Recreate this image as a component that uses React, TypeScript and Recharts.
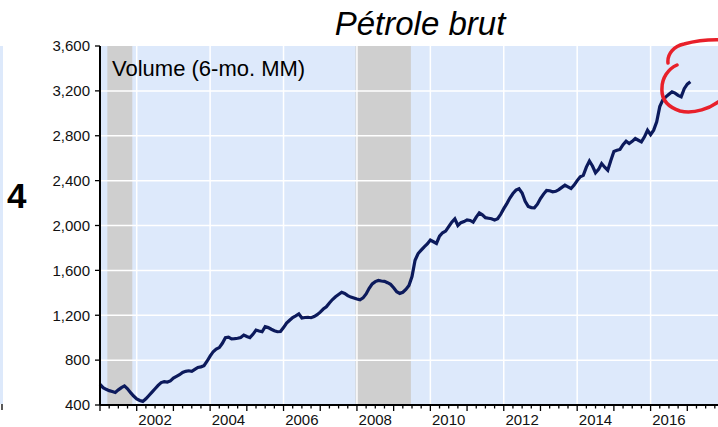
import { LineChart, Line, XAxis, YAxis, ReferenceArea, ReferenceLine } from "recharts"

// crude oil volume, 6-month moving average, monthly from Jan 2001
const volume = [
  585, 555, 540, 528, 520, 512, 535, 555, 570, 545, 510, 480,
  455, 440, 432, 455, 485, 515, 545, 575, 600, 608, 605, 615,
  640, 655, 670, 690, 700, 705, 700, 718, 735, 740, 750, 790,
  835, 875, 898, 912, 950, 1000, 1005, 990, 992, 995, 1002, 1023,
  1010, 1000, 1030, 1068, 1060, 1053, 1098, 1090, 1075, 1062, 1053, 1055,
  1090, 1130, 1155, 1180, 1195, 1212, 1175, 1180, 1182, 1178, 1188, 1205,
  1228, 1255, 1275, 1310, 1340, 1365, 1385, 1405, 1395, 1375, 1362, 1354,
  1345, 1338, 1355, 1390, 1440, 1480, 1500, 1510, 1505, 1502, 1490, 1475,
  1445, 1410, 1395, 1405, 1430, 1465, 1545, 1690, 1750, 1780, 1810, 1835,
  1870, 1855, 1840, 1905, 1935, 1950, 1990, 2030, 2060, 2000, 2025, 2035,
  2050, 2045, 2030, 2075, 2113, 2095, 2070, 2065, 2060, 2048, 2060, 2100,
  2150, 2195, 2245, 2285, 2315, 2328, 2290, 2215, 2170, 2160, 2158, 2190,
  2240, 2280, 2313, 2310, 2300, 2305, 2320, 2340, 2360, 2345, 2330, 2360,
  2400, 2435, 2447, 2520, 2575, 2530, 2470, 2500, 2552, 2520, 2492, 2580,
  2660, 2670, 2678, 2720, 2751, 2731, 2750, 2775, 2760, 2745, 2790, 2849,
  2810, 2850, 2925, 3060, 3120, 3147, 3170, 3192, 3180, 3160, 3147, 3220,
  3260, 3281,
]

const yTicks = [400, 800, 1200, 1600, 2000, 2400, 2800, 3200, 3600]
const labelYears = [2002, 2004, 2006, 2008, 2010, 2012, 2014, 2016]
const gridYears = [2002, 2004, 2006, 2008, 2010, 2012, 2014, 2016]
const recessions = [
  { from: 2001.2, to: 2001.88 },
  { from: 2007.96, to: 2009.47 },
]

const data = volume.map((v, i) => ({ t: 2001 + i / 12, v }))
const quarterTicks = Array.from({ length: 17 * 4 + 1 }, (_, i) => 2001 + i / 4)

const FONT = "'Liberation Sans', Arial, sans-serif"

function YearTick(props: any) {
  const { x, y, payload } = props
  const v = payload.value
  const major = Math.abs(v - Math.round(v)) < 1e-6
  const yr = Math.floor(v + 1e-6)
  const showLabel = Math.abs(v - yr - 0.5) < 1e-6 && labelYears.includes(yr)
  return (
    <g>
      <line x1={x} x2={x} y1={y} y2={y + (major ? 6 : 3.5)} stroke="#000" strokeWidth={1.3} />
      {showLabel && (
        <text x={x} y={y + 20} textAnchor="middle" fontSize={15} fill="#111" fontFamily={FONT}>
          {yr}
        </text>
      )}
    </g>
  )
}

export default function App() {
  return (
    <div
      style={{
        position: "absolute",
        left: 0,
        top: 0,
        width: 718,
        height: 427,
        overflow: "hidden",
        background: "#fff",
        fontFamily: FONT,
      }}
    >
      <LineChart width={724} height={427} data={data} margin={{ top: 46, right: 0, bottom: 0, left: 0 }}>
        <XAxis
          type="number"
          dataKey="t"
          domain={[2001, 2018]}
          ticks={quarterTicks}
          interval={0}
          tick={<YearTick />}
          tickLine={false}
          tickSize={0}
          tickMargin={0}
          height={22}
          axisLine={{ stroke: "#000", strokeWidth: 2 }}
        />
        <YAxis
          type="number"
          domain={[400, 3600]}
          ticks={yTicks}
          interval={0}
          width={100}
          tickSize={5}
          tickMargin={5}
          tickFormatter={(v: number) => v.toLocaleString("en-US")}
          tick={{ fill: "#111", fontSize: 15, fontFamily: FONT }}
          tickLine={{ stroke: "#000", strokeWidth: 1.3 }}
          axisLine={{ stroke: "#000", strokeWidth: 2 }}
        />
        <ReferenceArea x1={2001} x2={2018} y1={400} y2={3600} fill="#dde9fb" fillOpacity={1} stroke="none" />
        {recessions.map((r) => (
          <ReferenceArea key={r.from} x1={r.from} x2={r.to} y1={400} y2={3600} fill="#cfcfcf" fillOpacity={1} stroke="none" />
        ))}
        {gridYears.map((yr) => (
          <ReferenceLine key={"x" + yr} x={yr} stroke="#ffffff" strokeWidth={1.5} />
        ))}
        {yTicks.slice(1, -1).map((v) => (
          <ReferenceLine key={"y" + v} y={v} stroke="#ffffff" strokeWidth={1.5} />
        ))}
        <Line
          type="linear"
          dataKey="v"
          stroke="#0c1a5c"
          strokeWidth={3.2}
          dot={false}
          isAnimationActive={false}
        />
      </LineChart>
      <svg
        width={718}
        height={427}
        style={{ position: "absolute", left: 0, top: 0, pointerEvents: "none" }}
      >
        <rect x={0} y={46} width={3} height={358} fill="#dde9fb" />
        <line x1={2} x2={2} y1={404} y2={410} stroke="#000" strokeWidth={1.3} />
        <text x={420} y={35} textAnchor="middle" fontSize={33} fontStyle="italic" fill="#000" fontFamily={FONT}>
          Pétrole brut
        </text>
        <text x={7} y={208} fontSize={35} fontWeight="bold" fill="#000" fontFamily={FONT}>
          4
        </text>
        <text x={112} y={76} fontSize={22} fill="#000" fontFamily={FONT}>
          Volume (6-mo. MM)
        </text>
        <path
          d="M 668 63 C 667 54, 674 46, 684 44 C 695 41, 708 39, 725 40"
          fill="none"
          stroke="#e8202a"
          strokeWidth={3.5}
          strokeLinecap="round"
        />
        <path
          d="M 677 65 C 668 69, 662 78, 662 88 C 661 100, 668 107, 680 111 C 694 114, 710 109, 722 99"
          fill="none"
          stroke="#e8202a"
          strokeWidth={3.5}
          strokeLinecap="round"
        />
      </svg>
    </div>
  )
}
